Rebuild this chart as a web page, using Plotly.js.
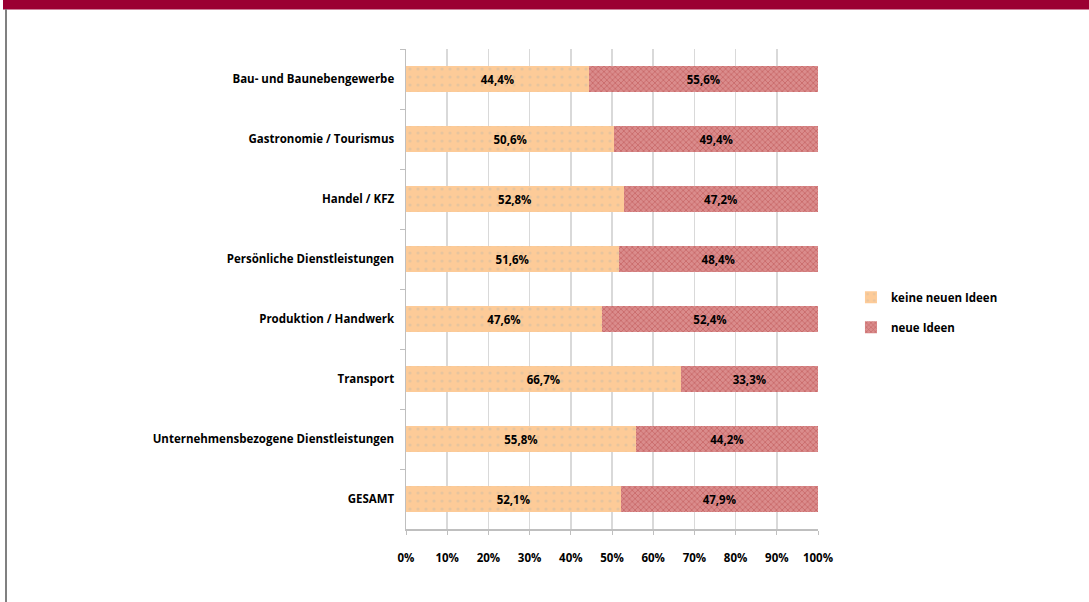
<!DOCTYPE html>
<html><head><meta charset="utf-8">
<script src="https://cdn.plot.ly/plotly-3.0.1.min.js"></script>
<style>html,body{margin:0;padding:0;background:#fff}#chart{width:1089px;height:602px}</style>
</head><body><div id="chart"></div>
<script>
const categories = ["Bau- und Baunebengewerbe","Gastronomie / Tourismus","Handel / KFZ","Persönliche Dienstleistungen","Produktion / Handwerk","Transport","Unternehmensbezogene Dienstleistungen","GESAMT"];
const keineNeuenIdeen = [44.4, 50.6, 52.8, 51.6, 47.6, 66.7, 55.8, 52.1];
const neueIdeen = [55.6, 49.4, 47.2, 48.4, 52.4, 33.3, 44.2, 47.9];
const seriesNames = ["keine neuen Ideen", "neue Ideen"];
const xTickVals = [0,0.1,0.2,0.3,0.4,0.5,0.6,0.7,0.8,0.9,1.0];

const fontFam = '"Open Sans", "Liberation Sans", sans-serif';
const lblFont = {family: fontFam, size: 11.5, color: '#000', weight: 'bold'};

const t1 = {
  type:'bar', orientation:'h', name: seriesNames[0], legendgroup:'a',
  y: categories, x: keineNeuenIdeen.map(v=>v/100),
  texttemplate: '%{x:.1%}', textposition:'inside', insidetextanchor:'middle',
  textfont: lblFont, constraintext:'none',
  marker:{color:'#FDCB98', pattern:{shape:'.', bgcolor:'#FDCB98', fgcolor:'#E6C49E', size:8, solidity:0.12}, line:{width:0}},
  hoverinfo:'skip'
};
const t2 = {
  type:'bar', orientation:'h', name: seriesNames[1], legendgroup:'b',
  y: categories, x: neueIdeen.map(v=>v/100),
  texttemplate: '%{x:.1%}', textposition:'inside', insidetextanchor:'middle',
  textfont: lblFont, constraintext:'none',
  marker:{color:'#D27C7C', pattern:{shape:'x', bgcolor:'#DA8C8C', fgcolor:'#C25E5E', size:4, solidity:0.3}, line:{width:0}},
  hoverinfo:'skip'
};

const layout = {
  width:1089, height:602, barmode:'stack', bargap:0.57,
  separators: ',.',
  paper_bgcolor:'#fff', plot_bgcolor:'#fff',
  margin:{l:406, r:271, t:49, b:73},
  font:{family: fontFam, size:11.5, color:'#000'},
  showlegend:true,
  legend:{x:1.08, y:0.513, xanchor:'left', yanchor:'top', traceorder:'grouped',
    font:{family: fontFam, size:11.5, color:'#000', weight:'bold'}, tracegroupgap:11, itemwidth:30},
  xaxis:{range:[0,1], tickvals:xTickVals, tickformat:'.0%', showgrid:true, gridcolor:'#D9D9D9', gridwidth:1.5,
    showline:true, linecolor:'#BFBFBF', linewidth:1.5, ticks:'outside', ticklen:4, tickcolor:'#BFBFBF',
    ticklabelstandoff:14, zeroline:false, tickfont:{family: fontFam, size:11.5, color:'#000', weight:'bold'}, fixedrange:true},
  yaxis:{type:'category', autorange:'reversed', showline:true, linecolor:'#BFBFBF', linewidth:1.5,
    ticks:'outside', ticklen:5, tickcolor:'#BFBFBF', tickson:'boundaries', showgrid:false,
    ticklabelstandoff:8, tickfont:{family: fontFam, size:11.5, color:'#000', weight:'bold'}, fixedrange:true},
  shapes:[
    {type:'rect', xref:'paper', yref:'paper', x0:(3-406)/412, x1:(1089-406)/412, y0:(529-9.5)/480, y1:(529+0)/480+0.01, fillcolor:'#9B0032', line:{width:0}, layer:'above'},
    {type:'line', xref:'paper', yref:'paper', x0:(6-406)/412, x1:(6-406)/412, y0:(529-9)/480, y1:-73/480, line:{color:'#808080', width:2}}
  ]
};
Plotly.newPlot('chart',[t1,t2],layout,{displayModeBar:false, staticPlot:true});
</script></body></html>
